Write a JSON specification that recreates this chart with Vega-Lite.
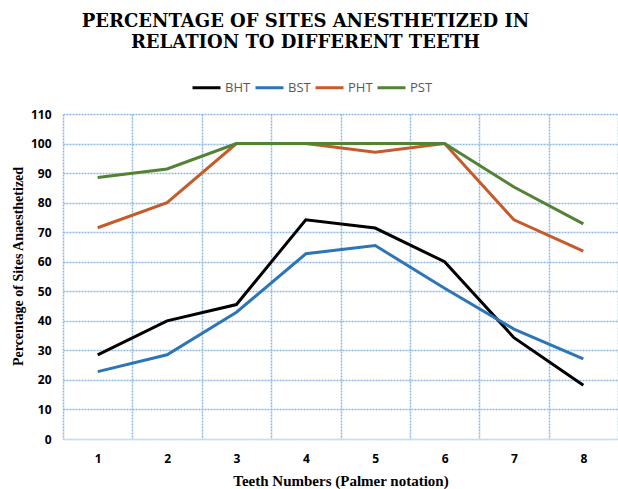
{
  "$schema": "https://vega.github.io/schema/vega-lite/v6.json",
  "width": 555,
  "height": 325,
  "autosize": {"type": "none"},
  "padding": {"left": 63, "top": 114, "right": 0, "bottom": 50},
  "background": "white",
  "title": {
    "text": ["PERCENTAGE OF SITES ANESTHETIZED IN", "RELATION TO DIFFERENT TEETH"],
    "font": "DejaVu Serif",
    "fontSize": 18,
    "fontWeight": "bold",
    "color": "#000000",
    "lineHeight": 21,
    "anchor": "middle",
    "dx": -35,
    "offset": 20
  },
  "data": {
    "values": [
      {"tooth": "1", "series": "BHT", "pct": 28.5},
      {"tooth": "2", "series": "BHT", "pct": 40},
      {"tooth": "3", "series": "BHT", "pct": 45.5},
      {"tooth": "4", "series": "BHT", "pct": 74.2},
      {"tooth": "5", "series": "BHT", "pct": 71.4},
      {"tooth": "6", "series": "BHT", "pct": 60},
      {"tooth": "7", "series": "BHT", "pct": 34.3},
      {"tooth": "8", "series": "BHT", "pct": 18.2},
      {"tooth": "1", "series": "BST", "pct": 22.8},
      {"tooth": "2", "series": "BST", "pct": 28.5},
      {"tooth": "3", "series": "BST", "pct": 42.9},
      {"tooth": "4", "series": "BST", "pct": 62.7},
      {"tooth": "5", "series": "BST", "pct": 65.5},
      {"tooth": "6", "series": "BST", "pct": 51},
      {"tooth": "7", "series": "BST", "pct": 37.2},
      {"tooth": "8", "series": "BST", "pct": 27.1},
      {"tooth": "1", "series": "PHT", "pct": 71.5},
      {"tooth": "2", "series": "PHT", "pct": 80},
      {"tooth": "3", "series": "PHT", "pct": 100},
      {"tooth": "4", "series": "PHT", "pct": 100},
      {"tooth": "5", "series": "PHT", "pct": 97.1},
      {"tooth": "6", "series": "PHT", "pct": 100},
      {"tooth": "7", "series": "PHT", "pct": 74.2},
      {"tooth": "8", "series": "PHT", "pct": 63.6},
      {"tooth": "1", "series": "PST", "pct": 88.5},
      {"tooth": "2", "series": "PST", "pct": 91.4},
      {"tooth": "3", "series": "PST", "pct": 100},
      {"tooth": "4", "series": "PST", "pct": 100},
      {"tooth": "5", "series": "PST", "pct": 100},
      {"tooth": "6", "series": "PST", "pct": 100},
      {"tooth": "7", "series": "PST", "pct": 85.3},
      {"tooth": "8", "series": "PST", "pct": 72.8}
    ]
  },
  "mark": {"type": "line", "strokeWidth": 3, "strokeCap": "butt", "strokeJoin": "miter"},
  "encoding": {
    "x": {
      "field": "tooth",
      "type": "ordinal",
      "scale": {"type": "band", "paddingInner": 0, "paddingOuter": 0},
      "axis": {
        "title": "Teeth Numbers (Palmer notation)",
        "titleFont": "Liberation Serif",
        "titleFontSize": 15,
        "titleFontWeight": "bold",
        "titleColor": "#000000",
        "titlePadding": 9,
        "labelAngle": 0,
        "labelFont": "Open Sans",
        "labelFontSize": 12,
        "labelFontWeight": "bold",
        "labelColor": "#000000",
        "labelPadding": 14,
        "ticks": false,
        "tickBand": "extent",
        "grid": true,
        "gridColor": "#8fb8e0",
        "gridDash": [2, 1],
        "gridWidth": 1.5,
        "domainColor": "#d9d9d9",
        "domainWidth": 1
      }
    },
    "y": {
      "field": "pct",
      "type": "quantitative",
      "scale": {"domain": [0, 110], "nice": false},
      "axis": {
        "title": "Percentage of Sites Anaesthetized",
        "titleFont": "Liberation Serif",
        "titleFontSize": 14,
        "titleFontWeight": "bold",
        "titleColor": "#000000",
        "titlePadding": 5,
        "titleY": 152,
        "values": [0, 10, 20, 30, 40, 50, 60, 70, 80, 90, 100, 110],
        "labelFont": "Open Sans",
        "labelFontSize": 12,
        "labelFontWeight": "bold",
        "labelColor": "#000000",
        "labelPadding": 12,
        "ticks": false,
        "domain": false,
        "grid": true,
        "gridColor": "#8fb8e0",
        "gridDash": [2, 1],
        "gridWidth": 1.5
      }
    },
    "color": {
      "field": "series",
      "type": "nominal",
      "scale": {"domain": ["BHT", "BST", "PHT", "PST"], "range": ["#000000", "#2e75b6", "#c55a2a", "#548235"]},
      "legend": {
        "title": null,
        "orient": "none",
        "direction": "horizontal",
        "legendX": 128,
        "legendY": -42,
        "symbolType": "stroke",
        "symbolSize": 784,
        "symbolStrokeWidth": 3,
        "labelFont": "Open Sans",
        "labelFontSize": 13,
        "labelColor": "#595959",
        "columnPadding": -2,
        "labelOffset": 3
      }
    }
  },
  "config": {"view": {"stroke": null}}
}
